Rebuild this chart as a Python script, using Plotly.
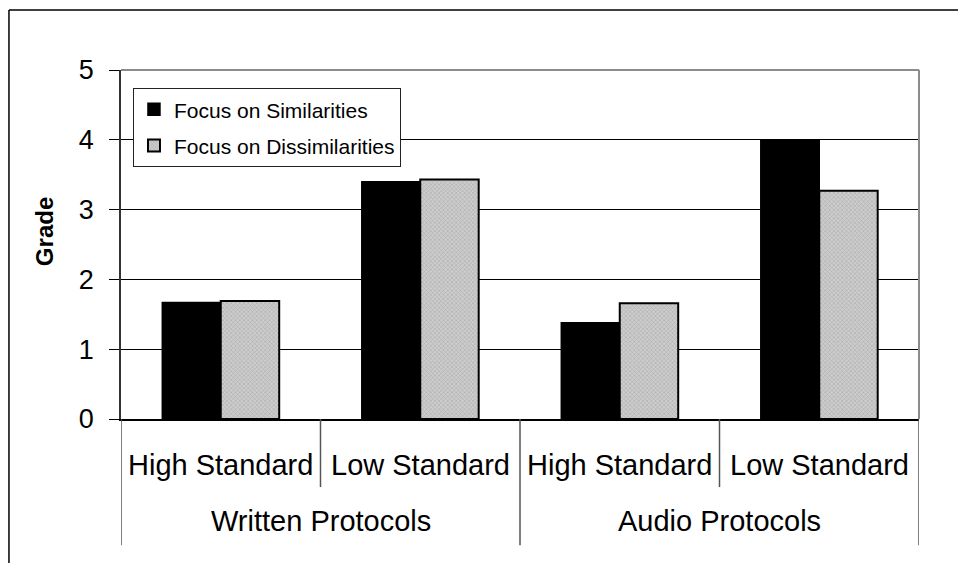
import plotly.graph_objects as go

# Grades by protocol type and standard, split by focus condition
outer_labels = ["Written Protocols", "Audio Protocols"]
inner_labels = ["High Standard", "Low Standard", "High Standard", "Low Standard"]
similarities = [1.67, 3.40, 1.38, 4.00]
dissimilarities = [1.69, 3.43, 1.66, 3.27]
y_ticks = [0, 1, 2, 3, 4, 5]

FONT = "Arial, Liberation Sans, sans-serif"
positions = list(range(len(inner_labels)))
n_inner = len(inner_labels) // len(outer_labels)

fig = go.Figure()
fig.add_trace(go.Bar(
    x=positions, y=similarities, name="Focus on Similarities",
    legendgroup="a",
    marker=dict(color="#000000", line=dict(color="#000000", width=1.5)),
))
fig.add_trace(go.Bar(
    x=positions, y=dissimilarities, name="Focus on Dissimilarities",
    legendgroup="b",
    marker=dict(
        color="#c0c0c0",
        line=dict(color="#000000", width=2),
        pattern=dict(shape="x", size=3, solidity=0.35,
                     fgcolor="#8a8a8a", bgcolor="#cdcdcd"),
    ),
))

shapes = []
# Outer frame: top and left edges
shapes.append(dict(type="line", xref="paper", yref="paper",
                   x0=-0.1404, x1=1.06, y0=1.172, y1=1.172,
                   line=dict(color="#000000", width=1.5)))
shapes.append(dict(type="line", xref="paper", yref="paper",
                   x0=-0.1404, x1=-0.1404, y0=1.172, y1=-0.45,
                   line=dict(color="#000000", width=1.5)))
# Plot-area top and right border
shapes.append(dict(type="line", xref="paper", yref="paper",
                   x0=0, x1=1, y0=1, y1=1,
                   line=dict(color="#8c8c8c", width=2)))
shapes.append(dict(type="line", xref="paper", yref="paper",
                   x0=1, x1=1, y0=0, y1=1,
                   line=dict(color="#8c8c8c", width=2)))
# Category dividers below the axis
for i in range(len(inner_labels) + 1):
    b = i - 0.5
    outer = (i % n_inner == 0)
    shapes.append(dict(type="line", xref="x", yref="paper",
                       x0=b, x1=b, y0=0, y1=-0.362 if outer else -0.195,
                       line=dict(color="#555555", width=1.5)))

annotations = []
for p, lab in zip(positions, inner_labels):
    annotations.append(dict(x=p, y=-0.132, xref="x", yref="paper",
                            text=lab, showarrow=False, xanchor="center",
                            yanchor="middle",
                            font=dict(family=FONT, size=29, color="#000000")))
for g, lab in enumerate(outer_labels):
    centre = g * n_inner + (n_inner - 1) / 2
    annotations.append(dict(x=centre, y=-0.292, xref="x", yref="paper",
                            text=lab, showarrow=False, xanchor="center",
                            yanchor="middle",
                            font=dict(family=FONT, size=29, color="#000000")))
annotations.append(dict(x=-0.095, y=0.536, xref="paper", yref="paper",
                        text="<b>Grade</b>", textangle=-90, showarrow=False,
                        xanchor="center", yanchor="middle",
                        font=dict(family=FONT, size=24, color="#000000")))

fig.update_layout(
    width=958, height=563,
    margin=dict(l=121, r=39, t=70, b=144),
    paper_bgcolor="#ffffff", plot_bgcolor="#ffffff",
    barmode="group", bargap=0.414, bargroupgap=0,
    font=dict(family=FONT, color="#000000"),
    showlegend=True,
    legend=dict(
        x=0.015, y=0.948, xanchor="left", yanchor="top",
        bgcolor="#ffffff", bordercolor="#222222", borderwidth=1,
        font=dict(family=FONT, size=21, color="#000000"),
        traceorder="grouped", tracegroupgap=6, itemwidth=30,
    ),
    xaxis=dict(
        range=[-0.5, len(inner_labels) - 0.5], showticklabels=False,
        showgrid=False, zeroline=False, ticks="",
        showline=True, linecolor="#000000", linewidth=1.5,
    ),
    yaxis=dict(
        range=[0, 5], tickvals=y_ticks, ticks="outside", ticklen=10,
        tickcolor="#000000", tickwidth=1.2,
        tickfont=dict(family=FONT, size=27, color="#000000"),
        ticklabelstandoff=10,
        showgrid=True, gridcolor="#000000", gridwidth=1,
        zeroline=False, showline=True, linecolor="#333333", linewidth=1.5,
    ),
    shapes=shapes,
    annotations=annotations,
)

fig.write_html("out.html")
